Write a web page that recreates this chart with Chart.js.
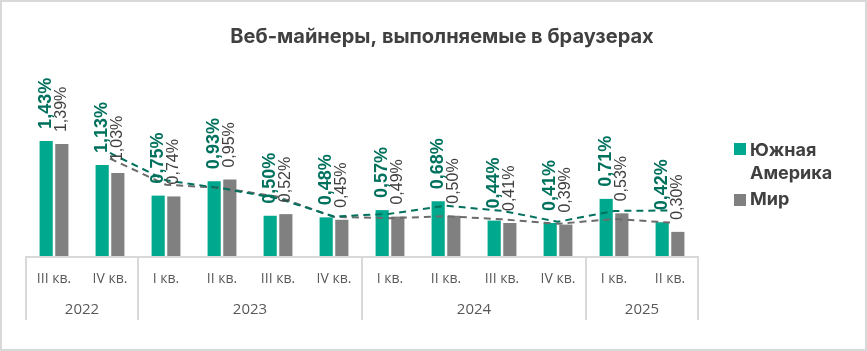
<!DOCTYPE html>
<html>
<head>
<meta charset="utf-8">
<script src="https://cdn.jsdelivr.net/npm/chart.js@4.4.1/dist/chart.umd.min.js"></script>
<style>
    html, body { margin: 0; padding: 0; background: #fff; }
    #wrap { width: 867px; height: 351px; }
</style>
</head>
<body>
<div id="wrap"><canvas id="minersChart" width="867" height="351"></canvas></div>
<script>
// quarters and years of the category axis
const quarters = ['III кв.', 'IV кв.', 'I кв.', 'II кв.', 'III кв.', 'IV кв.',
                  'I кв.', 'II кв.', 'III кв.', 'IV кв.', 'I кв.', 'II кв.'];
const years = ['2022', '2023', '2024', '2025'];
const yearSpans = [2, 4, 4, 2];

// share of users, %
const southAmerica = [1.43, 1.13, 0.75, 0.93, 0.50, 0.48, 0.57, 0.68, 0.44, 0.41, 0.71, 0.42];
const world = [1.39, 1.03, 0.74, 0.95, 0.52, 0.45, 0.49, 0.50, 0.41, 0.39, 0.53, 0.30];

// dashed trend lines
const southAmericaTrend = [null, 1.28, 0.94, 0.84, 0.715, 0.49, 0.525, 0.625, 0.56, 0.425, 0.56, 0.565];
const worldTrend = [null, 1.21, 0.885, 0.845, 0.735, 0.485, 0.47, 0.495, 0.455, 0.40, 0.46, 0.415];

const GREEN = '#00a88e';
const GREEN_DARK = '#00715d';
const GREY = '#808080';
const TEXT = '#404040';
const LINE = '#d9d9d9';

function pct(v) {
    return v.toFixed(2).replace('.', ',') + '%';
}

const decorPlugin = {
    id: 'decor',
    afterDatasetsDraw(chart) {
        const ctx = chart.ctx;
        // rotated value labels above the bars
        [0, 1].forEach((di) => {
            const meta = chart.getDatasetMeta(di);
            const values = chart.data.datasets[di].data;
            meta.data.forEach((bar, i) => {
                ctx.save();
                ctx.translate(bar.x, bar.y - 12);
                ctx.rotate(-Math.PI / 2);
                ctx.textAlign = 'left';
                ctx.textBaseline = 'middle';
                if (di === 0) {
                    ctx.font = 'bold 18px "Liberation Sans", Arial, sans-serif';
                    ctx.fillStyle = GREEN_DARK;
                } else {
                    ctx.font = '16px "Liberation Sans", Arial, sans-serif';
                    ctx.fillStyle = TEXT;
                }
                ctx.fillText(pct(values[i]), 0, 0);
                ctx.restore();
            });
        });
    },
    afterDraw(chart) {
        const ctx = chart.ctx;
        const xs = chart.scales.x;
        const area = chart.chartArea;
        const step = (area.right - area.left) / quarters.length;

        ctx.save();
        // outer frame
        ctx.strokeStyle = LINE;
        ctx.lineWidth = 2;
        ctx.strokeRect(1, 1, chart.width - 2, chart.height - 2);

        // title
        ctx.fillStyle = TEXT;
        ctx.font = 'bold 20px Inter, sans-serif';
        ctx.textAlign = 'center';
        ctx.textBaseline = 'middle';
        ctx.fillText('Веб-майнеры, выполняемые в браузерах', 442, 37);

        // category axis: baseline, year dividers, labels
        ctx.strokeStyle = LINE;
        ctx.lineWidth = 2;
        ctx.beginPath();
        ctx.moveTo(area.left, area.bottom + 1);
        ctx.lineTo(area.right, area.bottom + 1);
        let idx = 0;
        const bounds = [area.left];
        yearSpans.forEach((n) => {
            idx += n;
            bounds.push(area.left + idx * step);
        });
        bounds.forEach((bx) => {
            ctx.moveTo(bx, area.bottom);
            ctx.lineTo(bx, area.bottom + 64);
        });
        ctx.stroke();

        ctx.fillStyle = '#595959';
        ctx.font = '14px "Open Sans", Roboto, sans-serif';
        quarters.forEach((q, i) => {
            ctx.fillText(q, xs.getPixelForValue(i), area.bottom + 23);
        });
        ctx.font = '15px "Open Sans", Roboto, sans-serif';
        years.forEach((y, i) => {
            ctx.fillText(y, (bounds[i] + bounds[i + 1]) / 2, area.bottom + 54);
        });

        // legend
        ctx.textAlign = 'left';
        ctx.textBaseline = 'alphabetic';
        ctx.font = 'bold 18px Inter, sans-serif';
        ctx.fillStyle = GREEN;
        ctx.fillRect(734, 143, 12, 12);
        ctx.fillStyle = GREY;
        ctx.fillRect(734, 194, 12, 12);
        ctx.fillStyle = TEXT;
        ctx.fillText('Южная', 750, 156);
        ctx.fillText('Америка', 750, 179);
        ctx.fillText('Мир', 750, 205);
        ctx.restore();
    }
};

new Chart(document.getElementById('minersChart'), {
    type: 'bar',
    data: {
        labels: quarters,
        datasets: [
            {
                label: 'Южная Америка',
                data: southAmerica,
                backgroundColor: GREEN,
                categoryPercentage: 0.56,
                barPercentage: 0.84,
                order: 2
            },
            {
                label: 'Мир',
                data: world,
                backgroundColor: GREY,
                categoryPercentage: 0.56,
                barPercentage: 0.84,
                order: 2
            },
            {
                type: 'line',
                label: 'trend SA',
                data: southAmericaTrend,
                borderColor: GREEN_DARK,
                borderWidth: 2,
                borderDash: [7, 5],
                pointRadius: 0,
                fill: false,
                order: 1
            },
            {
                type: 'line',
                label: 'trend world',
                data: worldTrend,
                borderColor: '#6b6b6b',
                borderWidth: 2,
                borderDash: [7, 5],
                pointRadius: 0,
                fill: false,
                order: 1
            }
        ]
    },
    options: {
        responsive: false,
        animation: false,
        layout: { padding: { left: 26, right: 169, top: 95, bottom: 95 } },
        scales: {
            x: { display: false },
            y: { display: false, min: 0, max: 2 }
        },
        plugins: {
            legend: { display: false },
            tooltip: { enabled: false }
        }
    },
    plugins: [decorPlugin]
});
</script>
</body>
</html>
